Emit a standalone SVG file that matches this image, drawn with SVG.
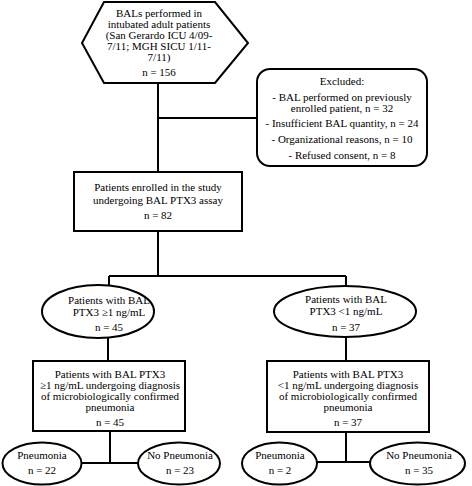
<svg xmlns="http://www.w3.org/2000/svg" width="472" height="486" viewBox="0 0 472 486">
<style>
.s{fill:#fff;stroke:#000;stroke-width:2}
.c{fill:none;stroke:#000;stroke-width:2}
text{fill:#000;text-anchor:middle;font-size:11px;font-family:"Liberation Serif","Times New Roman",serif}
</style>
<rect width="472" height="486" fill="#fff"/>
<g id="connectors">
<path class="c" d="M158 83V172M158 118H257M158 231V276M109 276H346M109 276V285M346 276V286M108 338V361M346 337V361M110 431V463M81 463H138M346 432V462M317 462H370"/>
</g>
<g id="n-bal">
<polygon class="s" points="104,2 215,2 248,43 215,83 104,83 82,43"/>
<text x="159" y="17">BALs performed in</text>
<text x="159" y="28">intubated adult patients</text>
<text x="159" y="39">(San Gerardo ICU 4/09-</text>
<text x="159" y="50">7/11; MGH SICU 1/11-</text>
<text x="159" y="61">7/11)</text>
<text x="159" y="76">n = 156</text>
</g>
<g id="n-excluded">
<rect class="s" x="257" y="69" width="170" height="97" rx="13"/>
<text x="342" y="85">Excluded:</text>
<text x="342" y="101">- BAL performed on previously</text>
<text x="342" y="112">enrolled patient, n = 32</text>
<text x="342" y="127">- Insufficient BAL quantity, n = 24</text>
<text x="342" y="143">- Organizational reasons, n = 10</text>
<text x="342" y="159">- Refused consent, n = 8</text>
</g>
<g id="n-enrolled">
<rect class="s" x="74" y="172" width="168" height="59"/>
<text x="158" y="191">Patients enrolled in the study</text>
<text x="158" y="204">undergoing BAL PTX3 assay</text>
<text x="158" y="219">n = 82</text>
</g>
<g id="n-high">
<ellipse class="s" cx="98" cy="311.5" rx="56" ry="26.5"/>
<text x="109" y="304">Patients with BAL</text>
<text x="109" y="316">PTX3 ≥1 ng/mL</text>
<text x="109" y="331">n = 45</text>
</g>
<g id="n-low">
<ellipse class="s" cx="345" cy="311.5" rx="71" ry="25.5"/>
<text x="346" y="303">Patients with BAL</text>
<text x="346" y="315">PTX3 &lt;1 ng/mL</text>
<text x="346" y="331">n = 37</text>
</g>
<g id="n-high-diag">
<rect class="s" x="33" y="361" width="152" height="70"/>
<text x="110" y="378">Patients with BAL PTX3</text>
<text x="110" y="389">≥1 ng/mL undergoing diagnosis</text>
<text x="110" y="400">of microbiologically confirmed</text>
<text x="110" y="411">pneumonia</text>
<text x="110" y="426">n = 45</text>
</g>
<g id="n-low-diag">
<rect class="s" x="267" y="361" width="162" height="71"/>
<text x="348" y="378">Patients with BAL PTX3</text>
<text x="348" y="389">&lt;1 ng/mL undergoing diagnosis</text>
<text x="348" y="400">of microbiologically confirmed</text>
<text x="348" y="411">pneumonia</text>
<text x="348" y="426">n = 37</text>
</g>
<g id="n-high-pn">
<ellipse class="s" cx="42" cy="463.5" rx="39.5" ry="21"/>
<text x="42" y="459">Pneumonia</text>
<text x="42" y="474">n = 22</text>
</g>
<g id="n-high-nopn">
<ellipse class="s" cx="179" cy="463.5" rx="41" ry="21"/>
<text x="180" y="459">No Pneumonia</text>
<text x="180" y="474">n = 23</text>
</g>
<g id="n-low-pn">
<ellipse class="s" cx="279.5" cy="463.5" rx="37.5" ry="21"/>
<text x="280" y="459">Pneumonia</text>
<text x="280" y="474">n = 2</text>
</g>
<g id="n-low-nopn">
<ellipse class="s" cx="417.5" cy="463.5" rx="47.5" ry="21"/>
<text x="419" y="459">No Pneumonia</text>
<text x="419" y="474">n = 35</text>
</g>
</svg>
